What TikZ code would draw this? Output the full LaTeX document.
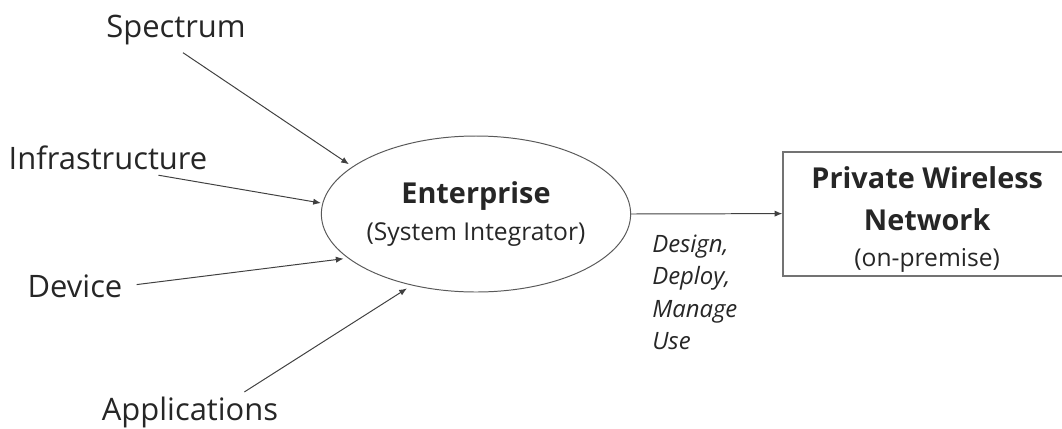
\documentclass[tikz,border=0pt]{standalone}
\usepackage{fontspec}
\setmainfont{Open Sans}
\usepackage{tikz}
\usetikzlibrary{arrows.meta,shapes.geometric,positioning,calc}

\newcommand{\bigbf}{\bfseries\fontsize{20.5}{26}\selectfont}
\newcommand{\subtx}{\mdseries\fontsize{17.5}{26}\selectfont}

\begin{document}
\begin{tikzpicture}[
    item/.style={inner sep=2pt, text=black!85, font=\fontsize{22}{26}\selectfont},
    ellbox/.style={draw=black!65, line width=0.7pt, ellipse, minimum width=7.2cm, minimum height=3.9cm, inner sep=0pt, align=center, text=black!85},
    netbox/.style={draw=black!55, line width=1.3pt, minimum width=7.2cm, minimum height=3.1cm, inner sep=0pt, align=center, text=black!85},
    arr/.style={-{Latex[length=5.5pt,width=4.5pt]}, draw=black!75, line width=0.7pt}
]
\useasboundingbox (0,0) rectangle (26.55,-10.7);

\node[ellbox, font=\bigbf] (ent) at (11.9,-5.35) {Enterprise\\\subtx (System Integrator)};
% strut on the first line pushes the text a little lower in the box
\node[netbox, font=\bigbf] (pwn) at (23.18,-5.34) {\rule{0pt}{24pt}Private Wireless\\[4pt]Network\\\subtx (on-premise)};

% inputs on the left
\node[item] (spec) at (4.4,-0.75) {Spectrum};
\node[item] (infra) at (2.7,-3.95) {Infrastructure};
\node[item] (dev) at (1.875,-7.15) {Device};
\node[item] (apps) at (4.75,-10.3) {Applications};

\draw[arr, shorten <=6pt, shorten >=3pt] (spec.south) -- (ent.159);
\draw[arr, shorten <=9pt, shorten >=1pt] ([xshift=0.95cm]infra.south) -- (ent.176);
\draw[arr, shorten <=8pt, shorten >=3pt] (dev.east) -- (ent.199);
\draw[arr, shorten <=2pt, shorten >=4pt] ([xshift=1.3cm]apps.north) -- (ent.228);

% output
\draw[arr] (ent.east) -- (pwn.west);
\node[anchor=north west, align=left, inner sep=0pt, text=black!85,
      font=\itshape\fontsize{17}{23}\selectfont] (use) at (16.3,-5.87) {Design,\\Deploy,\\Manage\\Use};
\end{tikzpicture}
\end{document}
